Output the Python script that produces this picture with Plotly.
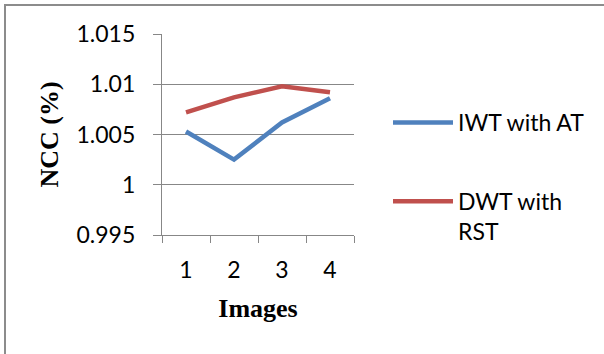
import plotly.graph_objects as go

# Figure geometry (px)
W, H = 604, 354
ML, MR, MT, MB = 162, 250, 34, 119

# Data
images = [1, 2, 3, 4]
iwt_at = [1.0053, 1.0025, 1.0062, 1.0086]
dwt_rst = [1.0072, 1.0087, 1.0098, 1.0092]
y_tickvals = [0.995, 1.0, 1.005, 1.01, 1.015]
y_ticktext = ["0.995", "1", "1.005", "1.01", "1.015"]
x_ticktext = ["1", "2", "3", "4"]

BLUE = "#4F81BD"
RED = "#C0504D"
GRID = "#878787"
LABEL_FONT = "Lato, Carlito, Calibri, sans-serif"
TITLE_FONT = "Liberation Serif, Times New Roman, serif"

pw = W - ML - MR
ph = H - MT - MB


def px_x(x):
    return (x - ML) / pw


def px_y(y):
    return (H - MB - y) / ph


fig = go.Figure()
fig.add_trace(go.Scatter(
    x=images, y=iwt_at, name="IWT with AT", mode="lines",
    line=dict(color=BLUE, width=4.5), legendgroup="a",
))
fig.add_trace(go.Scatter(
    x=images, y=dwt_rst, name="DWT with<br>RST", mode="lines",
    line=dict(color=RED, width=4.5), legendgroup="b",
))

fig.update_layout(
    width=W, height=H,
    margin=dict(l=ML, r=MR, t=MT, b=MB, pad=0),
    paper_bgcolor="white", plot_bgcolor="white",
    font=dict(family=LABEL_FONT, size=23, color="black"),
    showlegend=True,
    legend=dict(
        x=px_x(388), y=px_y(101), xanchor="left", yanchor="top",
        font=dict(family=LABEL_FONT, size=23, color="black"),
        tracegroupgap=46, valign="top", itemwidth=60,
        bgcolor="rgba(0,0,0,0)",
    ),
    xaxis=dict(
        range=[0.5, 4.5], tickmode="array", tickvals=images, ticktext=x_ticktext,
        ticks="", showgrid=False, zeroline=False,
        showline=True, linecolor=GRID, linewidth=1.3,
        ticklabelstandoff=14,
        minor=dict(tickmode="linear", tick0=0.5, dtick=1, ticks="outside",
                   ticklen=7, tickcolor=GRID, tickwidth=1.3, showgrid=False),
        title=dict(text="<b>Images</b>", font=dict(family=TITLE_FONT, size=26),
                   standoff=17),
        fixedrange=True,
    ),
    yaxis=dict(
        range=[0.995, 1.015], tickmode="array", tickvals=y_tickvals, ticktext=y_ticktext,
        ticks="outside", ticklen=8, tickcolor=GRID, tickwidth=1.3,
        showgrid=True, gridcolor=GRID, gridwidth=1.3, zeroline=False,
        showline=True, linecolor=GRID, linewidth=1.3,
        ticklabelstandoff=13,
        title=dict(text="<b>NCC (%)</b>", font=dict(family=TITLE_FONT, size=26),
                   standoff=10),
        fixedrange=True,
    ),
    shapes=[dict(
        type="rect", xref="paper", yref="paper",
        x0=px_x(5), x1=px_x(W + 10), y0=px_y(H + 10), y1=px_y(5),
        line=dict(color="#8C8C8C", width=2), fillcolor="rgba(0,0,0,0)", layer="below",
    )],
)

fig.write_html("out.html")
